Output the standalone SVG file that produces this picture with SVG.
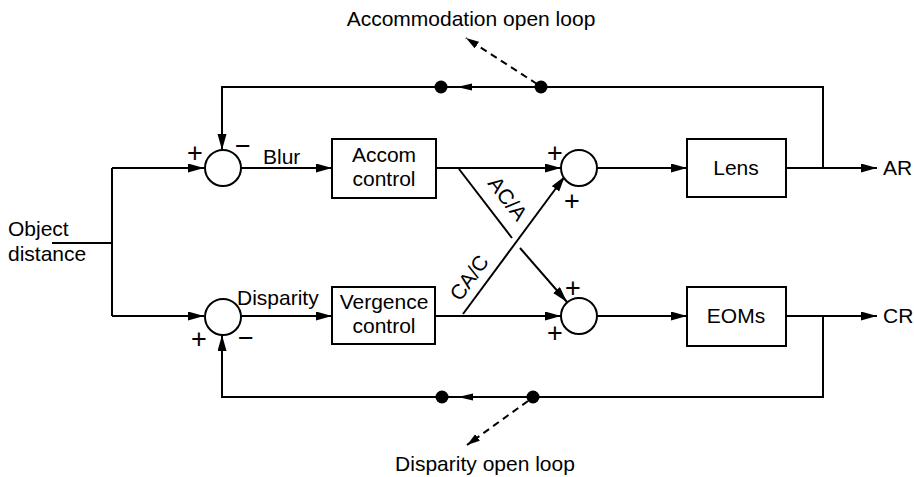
<svg xmlns="http://www.w3.org/2000/svg" width="914" height="477" viewBox="0 0 914 477">
<defs>
<marker id="arr" markerUnits="userSpaceOnUse" markerWidth="17" markerHeight="10" refX="16" refY="4.5" orient="auto"><path d="M0,0 L16,4.5 L0,9 z" fill="#000"/></marker>
<marker id="arrs" markerUnits="userSpaceOnUse" markerWidth="14" markerHeight="9" refX="13" refY="4" orient="auto"><path d="M0,0 L13,4 L0,8 z" fill="#000"/></marker>
<style>
.ln{fill:none;stroke:#000;stroke-width:2}
.dash{fill:none;stroke:#000;stroke-width:2;stroke-dasharray:7,5}
.bx{fill:#fff;stroke:#000;stroke-width:2}
.t{font-family:"Liberation Sans",Arial,sans-serif;font-size:21px;fill:#000}
.s{font-family:"Liberation Sans",Arial,sans-serif;font-size:27px;fill:#000;text-anchor:middle}
.m{text-anchor:middle}
</style>
</defs>
<rect width="914" height="477" fill="#fff"/>
<g id="connectors">
<path class="ln" d="M52,243 H112"/>
<path class="ln" d="M112,168 V316"/>
<path class="ln" d="M112,168 H204" marker-end="url(#arr)"/>
<path class="ln" d="M112,316 H204" marker-end="url(#arr)"/>
<path class="ln" d="M241,168 H332" marker-end="url(#arr)"/>
<path class="ln" d="M240,316 H332" marker-end="url(#arr)"/>
<path class="ln" d="M436,168 H561" marker-end="url(#arr)"/>
<path class="ln" d="M435,316 H561" marker-end="url(#arr)"/>
<path class="ln" d="M597,168 H687" marker-end="url(#arr)"/>
<path class="ln" d="M597,316 H687" marker-end="url(#arr)"/>
<path class="ln" d="M786,168 H877" marker-end="url(#arr)"/>
<path class="ln" d="M786,316 H877" marker-end="url(#arr)"/>
<path class="ln" d="M823,168 V87 H222 V150" marker-end="url(#arr)"/>
<path class="ln" d="M823,316 V397 H222 V335" marker-end="url(#arr)"/>
<path class="ln" d="M459,169 L512,238"/>
<path class="ln" d="M520,248 L567,302" marker-end="url(#arr)"/>
<path class="ln" d="M463,314 L565,176" marker-end="url(#arr)"/>
<polygon points="457,87 472,83.5 472,90.5" fill="#000"/>
<polygon points="458,397 473,393.5 473,400.5" fill="#000"/>
<circle cx="441" cy="87" r="6.5" fill="#000"/>
<circle cx="541" cy="87" r="6.5" fill="#000"/>
<circle cx="442" cy="397" r="6.5" fill="#000"/>
<circle cx="533" cy="397" r="6.5" fill="#000"/>
<path class="dash" d="M537,84 L466,38" marker-end="url(#arrs)"/>
<path class="dash" d="M528,401 L467,445" marker-end="url(#arrs)"/>
<text class="t" transform="translate(502,203) rotate(52.5)" text-anchor="middle">AC/A</text>
<text class="t" transform="translate(475,282) rotate(-53.7)" text-anchor="middle">CA/C</text>
<text class="t" x="263" y="164">Blur</text>
<text class="t" x="237" y="305">Disparity</text>
</g>
<g id="sum1"><circle class="bx" cx="223" cy="168" r="18"/><text class="s" x="195" y="162">+</text><text class="s" x="243" y="155">−</text></g>
<g id="sum2"><circle class="bx" cx="223" cy="317" r="18"/><text class="s" x="199" y="348">+</text><text class="s" x="246" y="347">−</text></g>
<g id="sum3"><circle class="bx" cx="579" cy="168" r="18"/><text class="s" x="555" y="162">+</text><text class="s" x="572" y="210">+</text></g>
<g id="sum4"><circle class="bx" cx="579" cy="316" r="18"/><text class="s" x="573" y="297">+</text><text class="s" x="555" y="342">+</text></g>
<g id="accom"><rect class="bx" x="332" y="139" width="104" height="59"/><text class="t m" x="384" y="162">Accom</text><text class="t m" x="384" y="186">control</text></g>
<g id="vergence"><rect class="bx" x="332" y="287" width="103" height="57"/><text class="t m" x="384" y="309">Vergence</text><text class="t m" x="384" y="333">control</text></g>
<g id="lens"><rect class="bx" x="687" y="139" width="99" height="58"/><text class="t m" x="736" y="175">Lens</text></g>
<g id="eoms"><rect class="bx" x="687" y="287" width="99" height="59"/><text class="t m" x="736" y="323">EOMs</text></g>
<g id="labels">
<text class="t" x="8" y="236">Object</text>
<text class="t" x="8" y="261">distance</text>
<text class="t" x="883" y="175">AR</text>
<text class="t" x="883" y="323">CR</text>
<text class="t m" x="471" y="26">Accommodation open loop</text>
<text class="t m" x="485" y="471">Disparity open loop</text>
</g>
</svg>
